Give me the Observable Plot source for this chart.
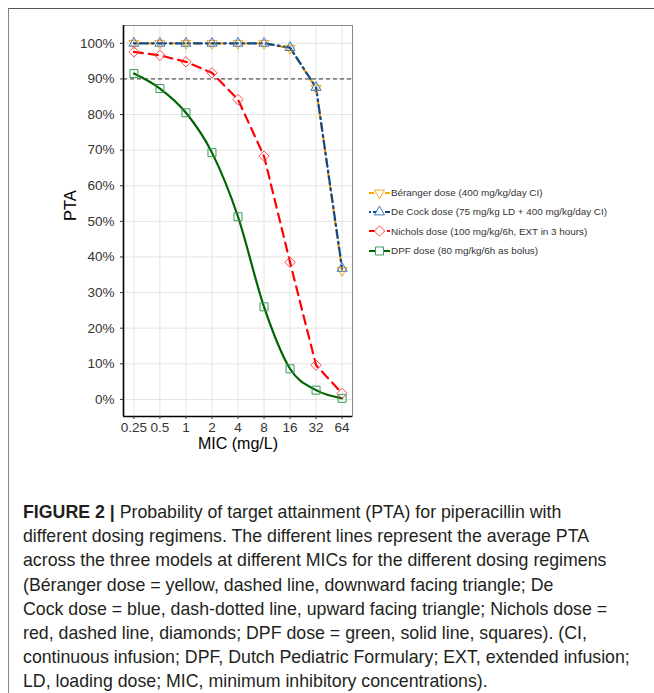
<!DOCTYPE html>
<html><head><meta charset="utf-8">
<script src="https://cdn.jsdelivr.net/npm/d3@7"></script>
<script src="https://cdn.jsdelivr.net/npm/@observablehq/plot@0.6"></script>
<style>
html,body{margin:0;padding:0;background:#fff;}
#page{position:relative;width:654px;height:693px;overflow:hidden;font-family:"Liberation Sans",Arial,sans-serif;}
#frame{position:absolute;left:8px;top:8px;width:700px;height:684px;border-top:1.5px solid #555;border-left:1px solid #888;}
#chart{position:absolute;left:0;top:0;}
#legend{position:absolute;left:369px;top:183px;font-size:9.9px;color:#333;font-family:"Liberation Sans",Arial,sans-serif;}
.row{display:flex;align-items:center;height:19.3px;white-space:nowrap;}
.row svg{margin-right:1px;}
#caption{position:absolute;left:23px;top:500px;font-size:17px;line-height:24.2px;color:#231f20;white-space:nowrap;font-family:"Liberation Sans",Arial,sans-serif;}
</style></head><body>
<div id="page"><div id="frame"></div><div id="chart"></div><div id="legend"></div><div id="caption"></div></div>
<script>
// ---- data ----
const mic = [0.25, 0.5, 1, 2, 4, 8, 16, 32, 64];
const seriesNames = [
  "Béranger dose (400 mg/kg/day CI)",
  "De Cock dose (75 mg/kg LD + 400 mg/kg/day CI)",
  "Nichols dose (100 mg/kg/6h, EXT in 3 hours)",
  "DPF dose (80 mg/kg/6h as bolus)"
];
const beranger = [100, 100, 100, 100, 100, 100, 98.6, 87.4, 36.2];
const decock   = [100, 100, 100, 100, 100, 100, 98.8, 87.6, 36.8];
const nichols  = [97.6, 96.6, 94.8, 91.7, 84.2, 68.3, 38.5, 9.6, 1.7];
const dpf      = [91.5, 87.3, 80.5, 69.3, 51.3, 26.0, 8.6, 2.6, 0.3];
const yTicks = [0, 10, 20, 30, 40, 50, 60, 70, 80, 90, 100];
const xTicks = [0.25, 0.5, 1, 2, 4, 8, 16, 32, 64];
const targetLine = [90];
const xTitle = "MIC (mg/L)";
const yTitle = "PTA";
const captionLabel = "FIGURE 2 |";
const captionLines = [
  " Probability of target attainment (PTA) for piperacillin with",
  "different dosing regimens. The different lines represent the average PTA",
  "across the three models at different MICs for the different dosing regimens",
  "(Béranger dose = yellow, dashed line, downward facing triangle; De",
  "Cock dose = blue, dash-dotted line, upward facing triangle; Nichols dose =",
  "red, dashed line, diamonds; DPF dose = green, solid line, squares). (CI,",
  "continuous infusion; DPF, Dutch Pediatric Formulary; EXT, extended infusion;",
  "LD, loading dose; MIC, minimum inhibitory concentrations)."
];

// ---- styles ----
const values = [beranger, decock, nichols, dpf];
const lineColors = ["#FFA500", "#0d4a91", "#FF0000", "#006400"];
const pointColors = ["#f7a823", "#3a78bd", "#ff4d4d", "#3a9a5c"];
const dashes = ["7,5", "2,4,8,4", "9,6", null];
const curves = ["linear", "linear", "linear", "monotone-x"];
const symbols = ["triangle2", "triangle2", "diamond2", "square2"];
const rotations = [180, 0, 0, 0];
const radii = [4.8, 4.8, 4.7, 5.1];
const legendDashes = ["5,3", "2,2,6,2", "6,3", null];

const xDomain = [Math.pow(2, -2.4), Math.pow(2, 6.4)];
const yDomain = [-4.8, 105];

const rows = values.map((vals, i) => mic.map((m, j) => ({series: seriesNames[i], mic: m, pta: vals[j]})));

const marks = [
  Plot.gridX(xTicks, {stroke: "#e4e4e4", strokeOpacity: 1, strokeWidth: 1}),
  Plot.gridY(yTicks, {stroke: "#e4e4e4", strokeOpacity: 1, strokeWidth: 1}),
  Plot.frame({stroke: "#8a8a8a", strokeWidth: 1}),
  Plot.ruleY(targetLine, {stroke: "#333", strokeWidth: 1, strokeDasharray: "4,3"})
];
rows.forEach((r, i) => {
  marks.push(Plot.line(r, {x: "mic", y: "pta", stroke: lineColors[i], strokeWidth: 2.2,
    strokeDasharray: dashes[i] || undefined, curve: curves[i]}));
});
rows.forEach((r, i) => {
  marks.push(Plot.dot(r, {x: "mic", y: "pta", symbol: symbols[i], rotate: rotations[i], r: radii[i],
    stroke: pointColors[i], strokeWidth: 1, fill: "none"}));
});
marks.push(
  Plot.ruleX([xDomain[0]], {stroke: "black", strokeWidth: 1.6}),
  Plot.ruleY([yDomain[0]], {stroke: "black", strokeWidth: 1.6}),
  Plot.axisX({ticks: xTicks, tickFormat: d => String(d), tickSize: 3, tickPadding: 3, color: "#333", label: null, fontSize: 13.5}),
  Plot.axisY({ticks: yTicks, tickFormat: d => d + "%", tickSize: 3, tickPadding: 6, color: "#333", label: null, fontSize: 13.5}),
  Plot.text([xTitle], {frameAnchor: "bottom", dy: 32, fontSize: 16, fill: "#000"}),
  Plot.text([yTitle], {frameAnchor: "left", dx: -53, rotate: -90, fontSize: 16.5, fill: "#000"})
);

const chart = Plot.plot({
  width: 654, height: 460,
  marginLeft: 123, marginRight: 302, marginTop: 25, marginBottom: 44,
  style: {background: "transparent", fontSize: "13.5px", fontFamily: "Liberation Sans, Arial, sans-serif"},
  x: {type: "log", base: 2, domain: xDomain},
  y: {domain: yDomain},
  marks
});
document.getElementById("chart").appendChild(chart);

// ---- legend ----
const legend = d3.select("#legend");
const symMap = {triangle2: d3.symbolTriangle2, diamond2: d3.symbolDiamond2, square2: d3.symbolSquare2};
seriesNames.forEach((name, i) => {
  const row = legend.append("div").attr("class", "row");
  const svg = row.append("svg").attr("width", 21).attr("height", 12);
  svg.append("line").attr("x1", 0).attr("x2", 21).attr("y1", 6).attr("y2", 6)
    .attr("stroke", lineColors[i]).attr("stroke-width", 2)
    .attr("stroke-dasharray", legendDashes[i]);
  svg.append("path").attr("d", d3.symbol(symMap[symbols[i]], Math.PI * radii[i] * radii[i])())
    .attr("transform", `translate(10.5,6) rotate(${rotations[i]})`)
    .attr("fill", "#fff").attr("stroke", pointColors[i]).attr("stroke-width", 1);
  row.append("span").text(name);
});

// ---- caption ----
const cap = d3.select("#caption");
captionLines.forEach((line, i) => {
  const div = cap.append("div").style("display", "inline-block");
  if (i === 0) div.append("b").text(captionLabel);
  div.append("span").text(line);
  cap.append("br");
});
const w = d3.max(cap.selectAll("div").nodes(), n => n.getBoundingClientRect().width);
cap.style("font-size", (17 * 607 / w) + "px");
</script>
</body></html>
